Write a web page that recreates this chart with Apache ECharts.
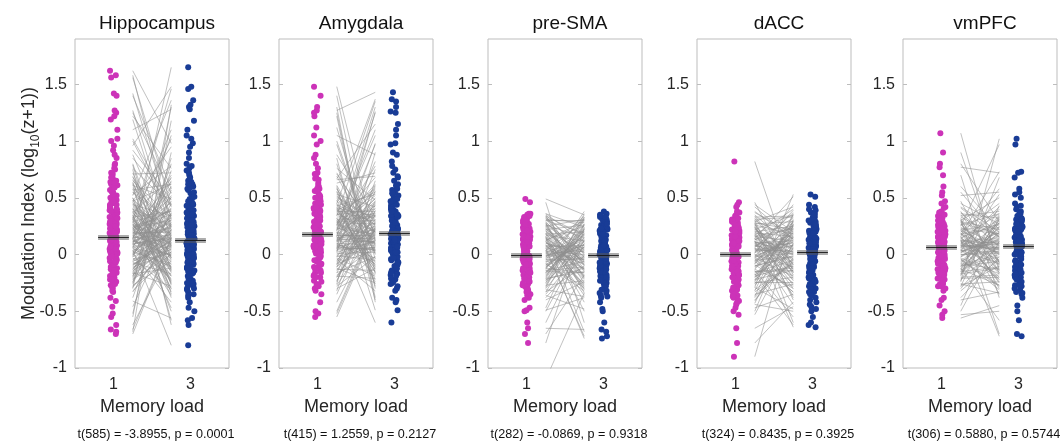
<!DOCTYPE html>
<html>
<head>
<meta charset="utf-8">
<script src="https://cdn.jsdelivr.net/npm/echarts@6/dist/echarts.min.js"></script>
<style>
  html, body { margin: 0; padding: 0; background: #fff; }
  #chart { width: 1060px; height: 441px; }
</style>
</head>
<body>
<div id="chart"></div>
<script>
  // panels and labels
  const regions = ['Hippocampus', 'Amygdala', 'pre-SMA', 'dACC', 'vmPFC']
  const loadTicks = [1, 3]
  const yTicks = [-1, -0.5, 0, 0.5, 1, 1.5]
  const stats = [
    't(585) = -3.8955, p = 0.0001',
    't(415) = 1.2559, p = 0.2127',
    't(282) = -0.0869, p = 0.9318',
    't(324) = 0.8435, p = 0.3925',
    't(306) = 0.5880, p = 0.5744'
  ]
  // mean lines
  const mean1 = [0.15, 0.18, -0.01, 0.00, 0.06]
  const mean3 = [0.13, 0.19, -0.01, 0.02, 0.07]

  // modulation index per unit (load 1 / load 3, same order = paired)
  const hippo1 = [0.12, -0.05, 0.34, 0.21, 1.62, -0.18, 0.08, 0.45, 0.02, -0.27, 0.66, 0.15, 0.31, -0.12, 0.04, 0.88, 0.19, -0.70, 0.27, 0.11, 0.52, -0.08, 0.38, 0.06, 1.25, -0.22, 0.14, 0.72, 0.00, -0.33, 0.24, 0.43, 0.09, -0.15, 0.58, 1.02, 0.17, -0.02, 0.29, -0.46, 0.36, 0.13, 0.79, -0.10, 0.22, 0.05, 1.42, 0.48, -0.25, 0.10, 0.62, 0.33, -0.06, 0.18, -0.55, 0.26, 0.92, 0.07, 0.41, -0.20, 0.16, 0.55, 0.01, 1.19, 0.30, -0.13, 0.69, 0.20, -0.38, 0.12, 0.47, 1.58, -0.03, 0.25, 0.85, -0.30, 0.35, 0.09, -0.62, 0.57, 0.14, 1.00, 0.28, -0.09, 0.75, 0.03, -0.17, 0.40, 0.23, 1.10, -0.66, 0.50, 0.11, -0.28, 0.32, 0.64, 1.27, 0.06, -0.41, 0.19, 0.96, 0.37, -0.52, 0.80, 1.56, -0.68, 0.44, 1.22, 0.27, 1.40,
    0.18, 0.03, 0.42, -0.21, 0.27, 0.09, 0.61, -0.11, 0.35, 0.14, -0.29, 0.22, 0.50, 0.00, 0.16, -0.07, 0.39, 0.24, -0.16, 0.71, 0.06, 0.31, -0.24, 0.12, 0.46, 0.20, -0.04, 0.55, 0.10, -0.19, 0.28, 0.65, 0.02, 0.37, -0.13, 0.17, 0.49, -0.32, 0.08, 0.26, 0.59, -0.01, 0.21, 0.33, -0.09, 0.44, 0.13, -0.26, 0.68, 0.05, 0.29, -0.14, 0.38, 0.11, 0.53, -0.06, 0.23, 0.76, 0.15, -0.22, 0.32, 0.01, 0.47, 0.19, -0.17, 0.40, 0.07, 0.63, -0.02, 0.25]
  const hippo3 = [0.05, 0.28, -0.14, 0.40, 0.98, 0.10, -0.22, 0.18, 0.33, -0.06, 0.12, 0.60, -0.30, 0.22, -0.80, 0.07, 0.46, 0.15, -0.11, 0.30, 1.36, 0.02, 0.25, -0.19, 0.54, 0.09, 0.70, -0.03, 0.36, 0.17, -0.47, 0.13, 1.05, 0.21, -0.26, 0.42, 0.04, 0.65, -0.09, 0.27, 0.11, 1.65, -0.35, 0.19, 0.50, 0.00, 0.31, -0.16, 0.85, 0.14, -0.58, 0.38, 0.08, 0.23, 1.18, -0.07, 0.48, 0.16, -0.23, 0.74, 0.06, 0.29, -0.42, 0.13, 1.46, 0.35, -0.12, 0.20, 0.57, -0.01, 0.95, 0.24, -0.31, 0.10, 0.44, 1.30, -0.50, 0.18, 0.03, 0.62, -0.18, 0.34, 1.10, 0.12, -0.62, 0.26, 0.80, -0.04, 0.39, 1.28, 0.15, -0.38, 0.52, 0.08, 1.02, -0.27, 0.21, 0.68, -0.56, 0.32, 1.48, 0.01, 0.90, -0.14, 0.43, 1.32, 0.17, 0.76, 0.09, 0.58,
    0.21, -0.10, 0.06, 0.37, -0.24, 0.15, 0.49, 0.02, -0.33, 0.28, 0.11, 0.64, -0.05, 0.19, 0.41, -0.17, 0.08, 0.30, -0.28, 0.72, 0.14, -0.02, 0.36, 0.25, -0.13, 0.55, 0.04, 0.18, -0.21, 0.45, 0.10, 0.33, -0.08, 0.67, 0.22, -0.36, 0.16, 0.01, 0.40, -0.15, 0.27, 0.59, 0.07, -0.25, 0.13, 0.34, -0.01, 0.51, 0.20, -0.11, 0.38, 0.05, -0.30, 0.24, 0.78, 0.12, -0.06, 0.43, 0.17, 0.00, -0.19, 0.31, 0.62, 0.09, -0.12, 0.26, 0.47, -0.03, 0.14, 0.35]
  const amyg1 = [0.15, -0.08, 0.32, 0.22, 1.48, 0.05, -0.20, 0.41, 0.11, 0.27, -0.12, 0.58, 0.18, 0.02, 0.36, -0.28, 0.88, 0.09, 0.24, -0.04, 0.47, 1.27, 0.13, -0.16, 0.30, 0.06, 0.63, -0.55, 0.20, 0.38, -0.10, 1.05, 0.16, 0.51, 0.01, -0.24, 0.26, 0.72, 0.10, -0.06, 0.44, 1.22, 0.19, -0.32, 0.34, 0.07, 0.55, -0.14, 0.97, 0.23, 0.03, -0.42, 0.40, 0.14, 0.67, -0.02, 1.30, 0.29, -0.18, 0.12, 0.49, 0.80, -0.35, 0.21, 0.04, 0.35, 1.12, -0.09, 0.17, 0.60, -0.50, 0.25, 0.08, 0.76, 1.40, -0.26, 0.31, 0.45, 0.00, 0.85, -0.52, 0.28, 1.00, 0.16, 0.53, 1.25, -0.11, 0.39, 0.69, 0.12, -0.30, 0.22, 0.43, 0.06,
    0.20, -0.05, 0.37, 0.11, 0.52, -0.19, 0.28, 0.04, 0.43, 0.15, -0.13, 0.33, 0.08, 0.61, 0.24, -0.01, 0.39, 0.17, -0.23, 0.48, 0.10, 0.30, -0.08, 0.56, 0.21, 0.02, 0.35, -0.16, 0.13, 0.66, 0.26, -0.03, 0.41, 0.07, 0.19, -0.27, 0.32, 0.50, 0.12, -0.11, 0.45, 0.23, 0.05, 0.58, -0.07, 0.29, 0.16, 0.38, -0.20, 0.09, 0.71, 0.27, -0.02, 0.42, 0.14]
  const amyg3 = [0.22, 0.04, -0.15, 0.37, 0.12, 1.26, 0.29, -0.06, 0.50, 0.17, -0.25, 0.08, 0.43, 0.98, 0.20, -0.02, 0.33, 0.61, 0.10, -0.32, 0.26, 1.43, 0.15, 0.47, -0.10, 0.05, 0.72, 0.23, -0.60, 0.38, 0.13, 0.88, -0.18, 0.31, 0.02, 0.56, 1.10, 0.19, -0.08, 0.41, 0.27, -0.38, 0.09, 0.65, 1.35, 0.14, -0.22, 0.35, 0.00, 0.52, 0.82, 0.24, -0.13, 0.11, 1.15, 0.45, -0.42, 0.30, 0.07, 0.97, 0.18, -0.28, 0.39, 1.30, 0.21, 0.58, -0.04, 0.75, 0.16, -0.49, 0.28, 1.05, 0.06, 0.48, -0.17, 0.90, 0.34, 1.37, 0.12, -0.40, 0.25, 0.68, 0.03, 1.25, 0.42, -0.30, 0.18, 0.55, 0.09, 0.36, -0.12, 0.78, 0.20, 0.04,
    0.10, 0.31, -0.09, 0.46, 0.19, -0.21, 0.27, 0.06, 0.53, 0.14, -0.14, 0.36, 0.23, 0.01, 0.62, -0.05, 0.29, 0.17, 0.44, -0.26, 0.08, 0.33, 0.21, -0.11, 0.57, 0.12, 0.40, -0.02, 0.25, 0.69, 0.15, -0.19, 0.34, 0.04, 0.49, 0.22, -0.07, 0.30, 0.11, 0.60, -0.24, 0.18, 0.38, 0.02, 0.26, -0.12, 0.47, 0.13, 0.35, -0.03, 0.20, 0.54, 0.07, -0.16, 0.28]
  const presma1 = [0.05, -0.12, 0.21, -0.03, 0.30, -0.22, 0.10, -0.08, 0.36, 0.00, -0.30, 0.15, 0.49, -0.15, 0.07, 0.26, -0.05, -0.38, 0.18, 0.02, -0.47, 0.33, -0.10, 0.12, -0.20, 0.24, -0.60, 0.04, -0.02, 0.29, -0.26, 0.09, 0.35, -0.13, -0.70, 0.16, -0.07, 0.22, -0.33, 0.01, 0.46, -0.18, 0.11, -0.50, 0.27, -0.04, 0.19, -0.24, 0.06, -0.78, 0.32, -0.11, 0.14, -0.36, 0.03, 0.23, -0.09, -0.65, 0.28, -0.16, 0.08, -0.28, 0.20, -0.01, -0.49, 0.34, -0.21, 0.13, -0.06, 0.25, -0.40, 0.17, -0.14, 0.31, -1.10,
    0.02, -0.17, 0.25, -0.06, 0.13, -0.29, 0.33, 0.07, -0.11, 0.19, -0.02, 0.28, -0.23, 0.10, -0.35, 0.16, 0.04, -0.14, 0.30, -0.08, 0.22, -0.19, 0.01, 0.36, -0.27, 0.12, -0.04, 0.26, -0.31, 0.08, 0.18, -0.12, 0.03, -0.21, 0.34, -0.09, 0.15, -0.25, 0.21, -0.01, 0.27, -0.16, 0.06, -0.33, 0.11]
  const presma3 = [-0.08, 0.18, -0.20, 0.06, 0.30, -0.12, 0.02, -0.32, 0.24, -0.04, 0.12, -0.68, 0.35, -0.16, 0.08, -0.25, 0.20, -0.01, -0.42, 0.14, 0.27, -0.09, 0.04, -0.36, 0.32, -0.14, 0.10, -0.72, 0.22, -0.06, 0.15, -0.28, 0.00, 0.38, -0.18, -0.50, 0.09, 0.26, -0.10, 0.03, -0.60, 0.19, -0.22, 0.13, -0.02, 0.33, -0.30, 0.07, -0.74, 0.23, -0.13, 0.16, -0.05, -0.48, 0.29, -0.19, 0.11, -0.66, 0.01, 0.21, -0.26, 0.36, -0.07, 0.05, -0.38, 0.17, -0.15, 0.25, -0.03, 0.31, -0.24, 0.12, -0.11, 0.28, -0.34,
    -0.03, 0.22, -0.15, 0.09, -0.27, 0.31, 0.04, -0.09, 0.17, -0.21, 0.13, -0.34, 0.26, -0.01, 0.07, -0.18, 0.34, -0.06, 0.19, -0.29, 0.02, 0.24, -0.12, 0.11, -0.23, 0.30, -0.04, 0.15, -0.37, 0.06, 0.20, -0.16, 0.00, 0.27, -0.10, 0.12, -0.31, 0.33, -0.07, 0.08, -0.20, 0.18, -0.02, 0.23, -0.13]
  const dacc1 = [0.02, -0.15, 0.20, -0.05, 0.31, -0.25, 0.10, -0.09, 0.37, 0.04, -0.33, 0.14, 0.82, -0.18, 0.07, 0.25, -0.02, -0.40, 0.17, 0.00, -0.53, 0.28, -0.12, 0.11, -0.22, 0.22, -0.65, 0.05, -0.07, 0.34, -0.29, 0.09, 0.42, -0.14, -0.90, 0.15, -0.04, 0.19, -0.36, 0.01, 0.46, -0.20, 0.12, -0.50, 0.26, -0.06, 0.18, -0.27, 0.06, -0.78, 0.30, -0.10, 0.13, -0.44, 0.03, 0.23, -0.08, -0.31, 0.29, -0.17, 0.08, -0.24, 0.21, -0.01, -0.47, 0.44, -0.19, 0.16, -0.03, 0.27, -0.38, 0.11, -0.13, 0.33, -0.02, 0.24, -0.11, 0.06, -0.23, 0.14,
    0.05, -0.20, 0.24, -0.08, 0.14, -0.32, 0.35, 0.09, -0.13, 0.19, -0.03, 0.30, -0.26, 0.11, -0.41, 0.17, 0.02, -0.16, 0.28, -0.06, 0.22, -0.22, 0.00, 0.38, -0.35, 0.13, -0.10, 0.26, -0.29, 0.07, 0.16, -0.15, 0.04, -0.24, 0.32, -0.05, 0.12, -0.37, 0.20, -0.01, 0.27, -0.18, 0.08, -0.43, 0.10]
  const dacc3 = [0.08, -0.12, 0.25, -0.02, 0.33, -0.20, 0.12, -0.30, 0.18, 0.03, -0.08, 0.51, -0.16, 0.06, 0.28, -0.38, 0.15, -0.04, 0.40, -0.25, 0.10, -0.60, 0.22, 0.00, -0.14, 0.35, -0.46, 0.07, 0.19, -0.09, 0.53, -0.22, 0.13, -0.55, 0.27, 0.02, -0.33, 0.16, -0.06, 0.44, -0.18, 0.09, -0.64, 0.30, -0.11, 0.21, -0.27, 0.05, 0.37, -0.42, 0.14, -0.01, 0.24, -0.50, 0.11, -0.15, 0.31, -0.07, 0.42, -0.62, 0.17, -0.24, 0.04, 0.26, -0.35, 0.20, -0.10, 0.12, -0.19, 0.29, -0.03, 0.08, -0.28, 0.34, 0.01, -0.13, 0.23, -0.44, 0.15, -0.05,
    0.00, 0.25, -0.16, 0.13, -0.30, 0.36, 0.06, -0.07, 0.20, -0.23, 0.16, -0.40, 0.29, 0.02, 0.09, -0.19, 0.39, -0.05, 0.22, -0.33, 0.05, 0.27, -0.11, 0.14, -0.26, 0.32, -0.02, 0.18, -0.48, 0.10, 0.23, -0.14, 0.03, 0.30, -0.09, 0.15, -0.36, 0.35, -0.04, 0.11, -0.21, 0.19, 0.01, 0.26, -0.12]
  const vmpfc1 = [0.05, -0.10, 0.22, 0.00, 0.34, -0.20, 0.12, -0.05, 0.42, 0.08, -0.28, 0.17, 1.07, -0.14, 0.10, 0.29, 0.02, -0.38, 0.20, 0.04, -0.50, 0.31, -0.08, 0.14, -0.17, 0.26, -0.56, 0.07, -0.02, 0.38, -0.24, 0.11, 0.55, -0.12, 0.80, 0.18, -0.04, 0.23, -0.32, 0.03, 0.47, -0.16, 0.13, -0.45, 0.27, -0.06, 0.19, -0.22, 0.09, 0.70, 0.33, -0.09, 0.15, -0.53, 0.06, 0.25, -0.11, 0.90, 0.30, -0.19, 0.08, -0.26, 0.21, 0.01, -0.40, 0.60, -0.15, 0.16, -0.03, 0.36, 0.77, 0.12, -0.13, 0.52, 0.04,
    0.09, -0.13, 0.27, -0.02, 0.16, -0.23, 0.37, 0.11, -0.07, 0.21, 0.02, 0.32, -0.18, 0.13, -0.30, 0.19, 0.06, -0.10, 0.29, -0.04, 0.24, -0.15, 0.04, 0.41, -0.21, 0.14, 0.00, 0.28, -0.26, 0.10, 0.18, -0.08, 0.07, -0.17, 0.35, -0.01, 0.15, -0.28, 0.22, 0.03, 0.30, -0.12, 0.08, 0.45, 0.12]
  const vmpfc3 = [0.10, -0.06, 0.26, 0.03, 0.38, -0.18, 0.14, -0.28, 0.20, 0.06, -0.10, 0.73, -0.14, 0.08, 0.31, -0.35, 0.17, -0.02, 0.45, -0.22, 0.12, -0.70, 0.24, 0.01, -0.12, 0.36, -0.45, 0.09, 0.21, -0.07, 1.02, -0.20, 0.15, -0.58, 0.29, 0.04, -0.31, 0.18, -0.04, 0.53, -0.16, 0.11, -0.72, 0.33, -0.09, 0.23, -0.25, 0.07, 0.42, -0.38, 0.16, 0.00, 0.27, -0.50, 0.13, 0.97, 0.35, -0.08, 0.50, 0.68, 0.19, -0.24, 0.05, 0.28, -0.33, 0.22, -0.11, 0.58, -0.17, 0.32, 0.72, 0.10, -0.27, 0.55, 0.02,
    0.04, 0.25, -0.11, 0.13, -0.24, 0.34, 0.07, -0.05, 0.19, -0.17, 0.16, -0.30, 0.28, 0.02, 0.10, -0.14, 0.40, -0.02, 0.22, -0.27, 0.08, 0.30, -0.08, 0.15, -0.20, 0.36, 0.01, 0.18, -0.34, 0.11, 0.24, -0.13, 0.05, 0.31, -0.06, 0.14, -0.22, 0.43, 0.00, 0.12, -0.16, 0.20, 0.06, 0.27, -0.09]

  // horizontal scatter offsets around each load (x units)
  const jitter = [-0.06, 0.08, -0.01, 0.04, -0.09, 0.02, 0.07, -0.04, 0.10, -0.07, 0.00, 0.05, -0.03, 0.09, -0.08, 0.03, -0.05, 0.06, -0.10, 0.01, 0.08, -0.02, 0.04, -0.06, 0.07, -0.09, 0.02]

  const load1 = [hippo1, amyg1, presma1, dacc1, vmpfc1]
  const load3 = [hippo3, amyg3, presma3, dacc3, vmpfc3]

  const font = "'Liberation Sans', Arial, Helvetica, sans-serif"
  const textColor = '#262626'
  const boxColor = '#bdbdbd'
  const magenta = '#cc33b8'
  const blue = '#193c96'

  const gridLeft = [75, 279, 488, 697, 903]
  const gridWidth = 154
  const gridTop = 39
  const gridHeight = 329

  const chart = echarts.init(document.getElementById('chart'))

  const grid = [], xAxis = [], yAxis = [], series = [], title = []

  regions.forEach((name, i) => {
    const cx = gridLeft[i] + gridWidth / 2
    grid.push({ left: gridLeft[i], top: gridTop, width: gridWidth, height: gridHeight,
      show: true, borderColor: boxColor, borderWidth: 1 })
    title.push({ text: name, left: cx, top: 9, textAlign: 'center',
      textStyle: { fontFamily: font, fontSize: 19, fontWeight: 'normal', color: '#111' } })
    title.push({ text: stats[i], left: cx - 1, top: 423, textAlign: 'center',
      textStyle: { fontFamily: font, fontSize: 12.6, fontWeight: 'normal', color: '#111' } })

    xAxis.push({
      gridIndex: i, type: 'value', min: 0, max: 4,
      name: 'Memory load', nameLocation: 'middle', nameGap: 25,
      nameTextStyle: { fontFamily: font, fontSize: 18, color: textColor },
      axisLine: { show: false },
      axisTick: { show: true, inside: true, length: 4, customValues: loadTicks, lineStyle: { color: boxColor } },
      axisLabel: { customValues: loadTicks, margin: 9, fontFamily: font, fontSize: 16, color: textColor },
      splitLine: { show: false }
    })
    const yLeft = {
      gridIndex: i, type: 'value', min: -1, max: 1.9, position: 'left',
      axisLine: { show: false },
      axisTick: { show: true, inside: true, length: 4, customValues: yTicks, lineStyle: { color: boxColor } },
      axisLabel: { customValues: yTicks, margin: 8, fontFamily: font, fontSize: 16, color: textColor },
      splitLine: { show: false }
    }
    if (i === 0) {
      yLeft.name = '{t|Modulation Index (log}{s|10}{t|(z+1))}'
      yLeft.nameLocation = 'middle'
      yLeft.nameGap = 33
      yLeft.nameMoveOverlap = false
      yLeft.nameTextStyle = {
        rich: {
          t: { fontFamily: font, fontSize: 18, color: textColor, lineHeight: 26 },
          s: { fontFamily: font, fontSize: 12, color: textColor, verticalAlign: 'bottom' }
        }
      }
    }
    yAxis.push(yLeft)
    yAxis.push({
      gridIndex: i, type: 'value', min: -1, max: 1.9, position: 'right',
      axisLine: { show: false },
      axisTick: { show: true, inside: true, length: 4, customValues: yTicks, lineStyle: { color: boxColor } },
      axisLabel: { show: false },
      splitLine: { show: false }
    })

    const a = load1[i], b = load3[i]
    const n = Math.min(a.length, b.length)
    const pairs = []
    for (let k = 0; k < n; k++) pairs.push({ coords: [[1.5, a[k]], [2.5, b[k]]] })

    series.push({
      type: 'lines', coordinateSystem: 'cartesian2d', xAxisIndex: i, yAxisIndex: 2 * i,
      data: pairs, silent: true, clip: true, z: 1,
      lineStyle: { color: '#8f8f8f', width: 0.8, opacity: 0.7 }
    })
    series.push({
      type: 'scatter', xAxisIndex: i, yAxisIndex: 2 * i, symbolSize: 6, clip: true, z: 2,
      itemStyle: { color: magenta, opacity: 1 },
      data: a.map((v, k) => [1 + jitter[k % jitter.length], v])
    })
    series.push({
      type: 'scatter', xAxisIndex: i, yAxisIndex: 2 * i, symbolSize: 6, clip: true, z: 2,
      itemStyle: { color: blue, opacity: 1 },
      data: b.map((v, k) => [3 + jitter[(k + 13) % jitter.length], v])
    })
    // mean markers: grey band with a dark line
    const meanLines = [
      { coords: [[0.6, mean1[i]], [1.4, mean1[i]]] },
      { coords: [[2.6, mean3[i]], [3.4, mean3[i]]] }
    ]
    series.push({
      type: 'lines', coordinateSystem: 'cartesian2d', xAxisIndex: i, yAxisIndex: 2 * i,
      data: meanLines, silent: true, z: 3,
      lineStyle: { color: 'rgba(90,90,90,0.5)', width: 5, opacity: 1 }
    })
    series.push({
      type: 'lines', coordinateSystem: 'cartesian2d', xAxisIndex: i, yAxisIndex: 2 * i,
      data: meanLines, silent: true, z: 4,
      lineStyle: { color: '#111', width: 1, opacity: 0.85 }
    })
  })

  chart.setOption({
    animation: false,
    backgroundColor: '#fff',
    title: title,
    grid: grid,
    xAxis: xAxis,
    yAxis: yAxis,
    series: series
  })
</script>
</body>
</html>
